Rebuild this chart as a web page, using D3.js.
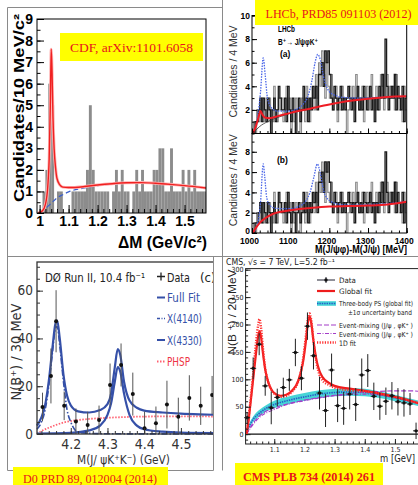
<!DOCTYPE html>
<html><head><meta charset="utf-8">
<script src="https://cdn.jsdelivr.net/npm/d3@7"></script>
<style>html,body{margin:0;padding:0;background:#fff}svg{display:block}</style>
</head><body>
<svg id="fig" width="418" height="485" xmlns="http://www.w3.org/2000/svg"></svg>
<script>
// ================= DATA =================
// --- CDF (top left): 10 MeV bins of Delta M (GeV) ---
const cdfMass = [1.00,1.01,1.02,1.03,1.04,1.05,1.06,1.07,1.08,1.09,1.10,1.11,1.12,1.13,1.14,1.15,1.16,1.17,1.18,1.19,1.20,1.21,1.22,1.23,1.24,1.25,1.26,1.27,1.28,1.29,1.30,1.31,1.32,1.33,1.34,1.35,1.36,1.37,1.38,1.39,1.40,1.41,1.42,1.43,1.44,1.45,1.46,1.47,1.48,1.49,1.50,1.51,1.52,1.53,1.54,1.55,1.56,1.57];
const cdfCounts = [0,1,2,6,5,0,1,1,0,0, 0,1,1,1,1,1,2,5,2,1, 1,1,1,1,0,1,2,1,2,1, 1,0,1,2,1,2,1,1,1,2, 2,3,3,1,1,3,1,1,1,2, 1,2,1,2,1,1,1,1];
const cdfFit = [[0.995,0],[1.01,0.1],[1.02,0.4],[1.028,1.2],[1.033,2.5],[1.037,5],[1.04,7.6],[1.043,6.5],[1.046,4.5],[1.05,3],[1.055,2.1],[1.06,1.6],[1.07,1.3],[1.08,1.2],[1.1,1.18],[1.15,1.22],[1.2,1.3],[1.25,1.36],[1.3,1.4],[1.35,1.41],[1.4,1.38],[1.45,1.33],[1.5,1.27],[1.55,1.2],[1.574,1.16]];
const cdfBkg = [[1.005,0],[1.02,0.2],[1.04,0.45],[1.06,0.7],[1.08,0.85],[1.1,0.98],[1.15,1.15],[1.2,1.27],[1.25,1.34],[1.3,1.38],[1.35,1.39],[1.4,1.37],[1.45,1.32],[1.5,1.26],[1.55,1.19],[1.574,1.15]];
const cdfYTicks = [0,1,2,3,4,5,6,7,8,9];
const cdfXTicks = [1.0,1.1,1.2,1.3,1.4,1.5];
const cdfXLabels = ["1","1.1","1.2","1.3","1.4","1.5"];

// --- LHCb (top right): 4 MeV bins, M(J/psi phi)-M(J/psi) in MeV ---
const lhcbEdges = d3.range(1000, 1400, 4);
const lhcbHistBlack = [0,0,1,1,2,3,1,3,2,1, 3,2,0,2,3,1,2,4,3,2, 2,3,1,4,2,1,3,2,0,2, 3,1,2,4,2,3,1,3,2,4,
  3,4,2,5,5,6,4,7,6,7, 5,3,2,4,3,2,3,4,2,3, 2,3,4,3,2,3,1,3,4,2, 3,2,4,3,2,3,4,2,3,1, 3,2,4,3,5,3,8,4,2,3, 4,3,5,2,4,3,2,4,1,3];
const lhcbHistGray = [0,1,0,2,1,2,3,1,2,3, 1,3,2,1,4,2,1,3,2,3, 1,2,4,2,3,0,2,1,3,2, 2,0,3,2,1,4,2,1,3,3,
  2,5,3,6,4,7,5,3,6,4, 3,5,2,3,4,1,3,2,4,3, 3,0,2,4,3,4,2,5,3,2, 2,4,1,3,4,2,3,5,3,2, 4,3,2,5,4,2,3,5,3,4, 3,4,2,5,3,2,3,1,4,2];
const lhcbFitA = [[1002,0],[1010,0.6],[1017,1.4],[1022,1.9],[1027,1.6],[1033,1.35],[1045,1.3],[1070,1.5],[1100,1.75],[1150,2.1],[1200,2.45],[1250,2.75],[1300,2.95],[1350,3.1],[1400,3.15]];
const lhcbBkgA = [[1002,0],[1020,0.6],[1040,1.0],[1070,1.4],[1100,1.72]];
const lhcbCdfA = [[1002,0],[1015,1.5],[1022,3.5],[1029,6.4],[1034,5],[1040,3],[1050,2.2],[1065,1.9],[1090,1.9],[1110,2.0],[1130,2.4],[1145,3.2],[1155,4.5],[1163,6],[1170,6.7],[1177,6.2],[1185,4.8],[1195,3.8],[1210,3.3],[1240,3.05],[1280,3.0],[1320,3.05],[1360,3.1],[1400,3.15]];
const lhcbFitB = [[1002,0],[1010,0.5],[1020,1.0],[1034,1.45],[1055,1.9],[1075,2.1],[1100,2.25],[1150,2.45],[1200,2.6],[1250,2.65],[1300,2.7],[1350,2.8],[1400,3.07]];
const lhcbCdfB = [[1002,0],[1015,1],[1022,3],[1029,6.8],[1033,5.5],[1038,3.5],[1045,2.8],[1055,2.5],[1075,2.4],[1100,2.4],[1120,2.6],[1140,3.2],[1150,4],[1160,5.5],[1169,6.8],[1176,6],[1185,4.2],[1200,3.2],[1230,2.8],[1260,2.75],[1300,2.8],[1350,2.9],[1400,3.1]];
const lhcbYTicksA = [2,4,6,8,10];
const lhcbYTicksB = [0,2,4,6,8];
const lhcbXTicks = [1000,1100,1200,1300,1400];

// --- D0 (bottom left): M(J/psi K+ K-) in GeV ---
const d0Mass = [4.123,4.146,4.160,4.182,4.214,4.246,4.277,4.307,4.337,4.369,4.401,4.432,4.462,4.493,4.523,4.554,4.585];
const d0Counts = [11.3,24.3,47.2,11.8,5.2,3.8,5.9,20.5,28.9,16.7,2.4,4.5,12.3,7.2,15.1,11.8,16.3];
const d0Err = [6,11.5,13,6,5.5,5.5,6,9,9,9,7,7,10,8,9.5,8,8];
const d0FullFit = [[4.108,3.5],[4.12,7],[4.13,12],[4.14,22],[4.15,36],[4.158,46],[4.163,47.5],[4.17,40],[4.18,25],[4.19,16],[4.20,12],[4.22,9.5],[4.25,9],[4.28,10],[4.30,12.5],[4.31,17],[4.32,28],[4.328,35.5],[4.335,33],[4.345,22],[4.36,14],[4.38,11],[4.40,9.8],[4.45,9],[4.5,8.5],[4.55,8.2],[4.6,8]];
const d0X4140 = [[4.108,2],[4.12,5],[4.13,10],[4.14,20],[4.15,34],[4.158,44],[4.163,45],[4.17,37],[4.18,22],[4.19,10],[4.20,5],[4.21,2],[4.22,0.8],[4.25,0.3],[4.3,0.1],[4.6,0]];
const d0X4330 = [[4.108,0.2],[4.2,0.5],[4.25,1.5],[4.28,3.5],[4.30,8],[4.31,13],[4.32,22],[4.328,28],[4.335,26],[4.345,17],[4.36,8],[4.38,3.5],[4.40,2],[4.45,1],[4.5,0.6],[4.6,0.4]];
const d0Phsp = [[4.108,0],[4.12,1.2],[4.14,2.6],[4.16,3.8],[4.18,4.8],[4.2,5.4],[4.25,6.3],[4.3,6.8],[4.35,7.1],[4.4,7.3],[4.5,7.4],[4.6,7.3]];
const d0YTicks = [0,20,40,60];
const d0XTicks = [4.2,4.3,4.4,4.5];

// --- CMS (bottom right): m = M(J/psi phi)-M(J/psi) in GeV, 20 MeV bins ---
const cmsMass = [1.01,1.03,1.05,1.07,1.09,1.11,1.13,1.15,1.17,1.19,1.21,1.23,1.25,1.27,1.29,1.31,1.33,1.35,1.37,1.39,1.41,1.43,1.45,1.47,1.49,1.51,1.53,1.55,1.57];
const cmsCounts = [30,120,164,88,48,67,85,99,149,102,197,143,75,43,117,52,47,73,54,108,116,69,51,60,70,59,57,55,6];
const cmsErr = [10,20,20,18,30,16,18,20,25,22,25,25,30,30,30,30,30,28,30,30,30,25,25,25,25,25,25,20,15];
const cmsGlobalFit = [[1.008,0],[1.015,25],[1.02,50],[1.03,100],[1.04,150],[1.047,180],[1.051,188],[1.056,178],[1.062,150],[1.07,118],[1.08,95],[1.09,82],[1.1,75],[1.12,70],[1.14,72],[1.16,80],[1.18,98],[1.195,130],[1.205,170],[1.212,205],[1.217,215],[1.222,205],[1.23,170],[1.24,135],[1.25,115],[1.26,104],[1.28,94],[1.3,88],[1.35,83],[1.4,79],[1.45,74],[1.5,68],[1.55,61],[1.58,56]];
const cms1DFit = [[1.008,0],[1.02,55],[1.03,110],[1.04,170],[1.047,200],[1.051,210],[1.056,195],[1.062,160],[1.07,120],[1.08,95],[1.1,74],[1.12,68],[1.14,70],[1.16,78],[1.18,97],[1.195,135],[1.205,180],[1.212,212],[1.217,220],[1.222,210],[1.23,170],[1.24,130],[1.25,108],[1.26,98],[1.28,90],[1.3,85],[1.35,80],[1.4,78],[1.45,74],[1.5,68],[1.55,61],[1.58,56]];
const cmsPS = [[1.008,0],[1.015,12],[1.02,18],[1.03,27],[1.05,38],[1.07,46],[1.1,54],[1.15,62],[1.2,68],[1.25,73],[1.3,76],[1.35,77],[1.4,76],[1.45,72],[1.5,66],[1.55,60],[1.58,56]];
const cmsPSErr = [0,3,4,5,6,6,7,7,7,7,7,7,7,6,6,5,5];
const cmsMix1 = [[1.008,0],[1.02,12],[1.05,33],[1.1,48],[1.15,56],[1.2,62],[1.25,67],[1.3,71],[1.35,74],[1.4,77],[1.45,78],[1.5,79],[1.55,79],[1.58,78]];
const cmsMix2 = [[1.008,0],[1.02,10],[1.05,30],[1.1,45],[1.15,55],[1.2,61],[1.25,66],[1.3,70],[1.35,72],[1.4,73],[1.45,71],[1.5,67],[1.55,61],[1.58,57]];
const cmsYTicks = [0,50,100,150,200,250,300];
const cmsXTicks = [1.1,1.2,1.3,1.4,1.5];

// ================= DRAWING =================
const svg = d3.select("#fig");
const SANS = '"Liberation Sans", Arial, Helvetica, "DejaVu Sans", sans-serif';
const NARROW = '"Liberation Sans Narrow", "DejaVu Sans Condensed", "Liberation Sans", Arial, sans-serif';
const SERIF = '"Liberation Serif", "Times New Roman", Times, serif';
const RED = "#e8141c";

function addText(g, x, y, str, o) {
  o = o || {};
  const t = g.append("text").attr("x", x).attr("y", y)
    .attr("font-family", o.font || SANS).attr("font-size", o.size || 10)
    .attr("font-weight", o.weight || "normal").attr("fill", o.fill || "#000")
    .attr("text-anchor", o.anchor || "start").text(str);
  if (o.rotate) t.attr("transform", `rotate(${o.rotate},${x},${y})`);
  if (o.len) t.attr("textLength", o.len).attr("lengthAdjust", "spacingAndGlyphs");
  return t;
}
function drawAxis(g, gen, o) {
  const a = g.append("g").attr("transform", o.tr).call(gen);
  a.select(".domain").remove();
  a.attr("font-family", o.font || SANS).attr("font-size", o.size || 10).attr("font-weight", o.weight || "normal");
  a.selectAll("line").attr("stroke", o.color || "#000").attr("stroke-width", o.sw || 1);
  a.selectAll("text").attr("fill", o.tcolor || "#000");
  if (o.dx) a.selectAll("text").attr("dx", o.dx);
  return a;
}
const defs = svg.append("defs");

// ---------- panel borders ----------
const borders = svg.append("g").attr("stroke", "#8a8a8a").attr("stroke-width", 1).attr("fill", "none");
borders.append("path").attr("d", "M7.5,7.5H222.5 M7.5,7.5V470.5 M222.5,0V470.5 M7.5,256.5H418 M213.5,256.5V470.5 M7.5,470.5H213.5");

// ---------- CDF ----------
{
  const g = svg.append("g");
  const x = d3.scaleLinear().domain([0.991, 1.574]).range([37, 206]);
  const y = d3.scaleLinear().domain([0, 9]).range([213, 19]);
  defs.append("clipPath").attr("id", "clipCdf").append("rect").attr("x", 37).attr("y", 19).attr("width", 169).attr("height", 194);
  const bins = cdfCounts.map((c, i) => ({x0: cdfMass[i], x1: i < cdfMass.length - 1 ? cdfMass[i + 1] : 2 * cdfMass[i] - cdfMass[i - 1], c}));
  const pg = g.append("g").attr("clip-path", "url(#clipCdf)");
  pg.selectAll("rect").data(bins.filter(d => d.c > 0)).join("rect")
    .attr("x", d => x(d.x0)).attr("width", d => x(d.x1) - x(d.x0))
    .attr("y", d => y(d.c)).attr("height", d => y(0) - y(d.c)).attr("fill", "#8c8c8c");
  const line = d3.line().x(d => x(d[0])).y(d => y(d[1])).curve(d3.curveMonotoneX);
  pg.append("path").attr("d", line(cdfBkg)).attr("fill", "none").attr("stroke", "#3a5fcd").attr("stroke-width", 1.2).attr("stroke-dasharray", "5,3");
  pg.append("path").attr("d", line(cdfFit)).attr("fill", "none").attr("stroke", "#ffb3b3").attr("stroke-width", 3);
  pg.append("path").attr("d", line(cdfFit)).attr("fill", "none").attr("stroke", "#f02020").attr("stroke-width", 1.4);
  g.append("rect").attr("x", 37).attr("y", 19).attr("width", 169).attr("height", 194).attr("fill", "none").attr("stroke", "#000").attr("stroke-width", 1);
  drawAxis(g, d3.axisLeft(y).tickValues(cdfYTicks).tickSize(-7).tickPadding(4).tickFormat(d3.format("d")), {tr: "translate(37,0)", size: 14, weight: "bold"});
  drawAxis(g, d3.axisLeft(y).tickValues(d3.range(0, 9.01, 0.5)).tickSize(-3.5).tickFormat(""), {tr: "translate(37,0)"});
  drawAxis(g, d3.axisBottom(x).tickValues(cdfXTicks).tickSize(-8).tickPadding(3).tickFormat((d, i) => cdfXLabels[i]), {tr: "translate(0,213)", size: 14, weight: "bold"});
  drawAxis(g, d3.axisBottom(x).tickValues(d3.range(1.0, 1.571, 0.02)).tickSize(-4).tickFormat(""), {tr: "translate(0,213)"});
  addText(g, 24, 108, "Candidates/10 MeV/c\u00b2", {size: 15, weight: "bold", anchor: "middle", rotate: -90, len: 188});
  addText(g, 207, 248, "\u0394M  (GeV/c\u00b2)", {size: 16, weight: "bold", anchor: "end", len: 89});
  g.append("rect").attr("x", 60).attr("y", 33).attr("width", 143).attr("height", 28).attr("fill", "#ffff00");
  addText(g, 131.5, 52, "CDF, arXiv:1101.6058", {font: SERIF, size: 13.5, fill: RED, anchor: "middle", len: 123});
}

// ---------- LHCb ----------
{
  const g = svg.append("g");
  const x = d3.scaleLinear().domain([1000, 1400]).range([252, 406.7]);
  const yA = d3.scaleLinear().domain([0, 10]).range([133.5, 15.5]);
  const yB = d3.scaleLinear().domain([0, 9.8]).range([233, 133.5]);
  const panels = [
    {y: yA, fit: lhcbFitA, cdf: lhcbCdfA, bkg: lhcbBkgA, ticks: lhcbYTicksA, top: 15.5, bot: 133.5, id: "clipLa"},
    {y: yB, fit: lhcbFitB, cdf: lhcbCdfB, bkg: null, ticks: lhcbYTicksB, top: 133.5, bot: 233, id: "clipLb"}
  ];
  panels.forEach(p => {
    defs.append("clipPath").attr("id", p.id).append("rect").attr("x", 252).attr("y", p.top).attr("width", 154.7).attr("height", p.bot - p.top);
    const pg = g.append("g").attr("clip-path", `url(#${p.id})`);
    const step = d3.line().x(d => x(d[0])).y(d => p.y(d[1])).curve(d3.curveStepAfter);
    const mk = arr => [[1000, 0]].concat(arr.map((v, i) => [lhcbEdges[i], v]), [[1400, arr[arr.length - 1]]]);
    pg.append("path").attr("d", step(mk(lhcbHistGray))).attr("fill", "none").attr("stroke", "#8a8a8a").attr("stroke-width", 1.1);
    pg.append("path").attr("d", step(mk(lhcbHistBlack))).attr("fill", "none").attr("stroke", "#1a1a1a").attr("stroke-width", 1.3);
    const line = d3.line().x(d => x(d[0])).y(d => p.y(d[1])).curve(d3.curveMonotoneX);
    if (p.bkg) pg.append("path").attr("d", line(p.bkg)).attr("fill", "none").attr("stroke", "#333").attr("stroke-width", 0.8);
    pg.append("path").attr("d", line(p.cdf)).attr("fill", "none").attr("stroke", "#4a66e8").attr("stroke-width", 1.3).attr("stroke-dasharray", "1.5,1.2");
    pg.append("path").attr("d", line(p.fit)).attr("fill", "none").attr("stroke", "#ee1c24").attr("stroke-width", 2);
    g.append("rect").attr("x", 252).attr("y", p.top).attr("width", 154.7).attr("height", p.bot - p.top).attr("fill", "none").attr("stroke", "#000").attr("stroke-width", 1);
    const ya = drawAxis(g, d3.axisLeft(p.y).tickValues(p.ticks).tickSize(-5).tickPadding(2).tickFormat(d3.format("d")), {tr: "translate(252,0)", size: 8.5, weight: "bold"});
    ya.selectAll("text").filter(d => d === 0).attr("transform", "translate(0,-2.5)");
    drawAxis(g, d3.axisLeft(p.y).tickValues(d3.range(0, 10.01, 1)).tickSize(-2.5).tickFormat(""), {tr: "translate(252,0)"});
    drawAxis(g, d3.axisBottom(x).tickValues(lhcbXTicks).tickSize(-5).tickFormat(""), {tr: `translate(0,${p.bot})`});
    drawAxis(g, d3.axisBottom(x).tickValues(d3.range(1000, 1401, 20)).tickSize(-2.5).tickFormat(""), {tr: `translate(0,${p.bot})`});
    addText(g, 237, (p.top + p.bot) / 2 - 3, "Candidates / 4 MeV", {size: 10, fill: "#333", anchor: "middle", rotate: -90, len: 92});
  });
  drawAxis(g, d3.axisBottom(x).tickValues(lhcbXTicks).tickSize(0).tickPadding(4.5).tickFormat(d3.format("d")), {tr: "translate(0,233)", size: 8.5, weight: "bold", dx: -3});
  addText(g, 407, 253, "M(J/\u03c8\u03c6)-M(J/\u03c8) [MeV]", {size: 10, weight: "bold", anchor: "end", len: 92});
  addText(g, 278, 31.5, "LHCb", {size: 8.5, weight: "bold", len: 17});
  addText(g, 278, 44.5, "B\u207a\u2192 J/\u03c8\u03c6K\u207a", {size: 8.5, weight: "bold", len: 40});
  addText(g, 280, 57, "(a)", {size: 8.5, weight: "bold"});
  addText(g, 277, 163, "(b)", {size: 8.5, weight: "bold"});
  g.append("rect").attr("x", 255).attr("y", 0).attr("width", 163).attr("height", 25).attr("fill", "#ffff00");
  addText(g, 338.5, 17.5, "LHCb, PRD85 091103 (2012)", {font: SERIF, size: 12.5, fill: RED, anchor: "middle", len: 146});
}

// ---------- D0 ----------
{
  defs.append("clipPath").attr("id", "clipD0").append("rect").attr("x", 8).attr("y", 257).attr("width", 205).attr("height", 213);
  const g = svg.append("g").attr("clip-path", "url(#clipD0)");
  const x = d3.scaleLinear().domain([4.108, 4.6]).range([37, 217.6]);
  const y = d3.scaleLinear().domain([0, 72]).range([434, 262]);
  const BLUE = "#3550a8";
  const line = d3.line().x(d => x(d[0])).y(d => y(d[1])).curve(d3.curveMonotoneX);
  g.append("path").attr("d", line(d0Phsp)).attr("fill", "none").attr("stroke", "#ff6070").attr("stroke-width", 1.8).attr("stroke-dasharray", "1.5,1.5");
  g.append("path").attr("d", line(d0X4140)).attr("fill", "none").attr("stroke", BLUE).attr("stroke-width", 1.6).attr("stroke-dasharray", "6,2,1.5,2");
  g.append("path").attr("d", line(d0X4330)).attr("fill", "none").attr("stroke", BLUE).attr("stroke-width", 2.2);
  g.append("path").attr("d", line(d0FullFit)).attr("fill", "none").attr("stroke", BLUE).attr("stroke-width", 2.2);
  const pts = d0Mass.map((m, i) => ({m, c: d0Counts[i], e: d0Err[i]}));
  g.selectAll("line.err").data(pts).join("line").attr("class", "err")
    .attr("x1", d => x(d.m)).attr("x2", d => x(d.m)).attr("y1", d => y(Math.max(0, d.c - d.e))).attr("y2", d => y(d.c + d.e))
    .attr("stroke", "#555").attr("stroke-width", 1);
  g.selectAll("circle").data(pts).join("circle").attr("cx", d => x(d.m)).attr("cy", d => y(d.c)).attr("r", 2).attr("fill", "#111");
  g.append("rect").attr("x", 37).attr("y", 262).attr("width", 180.6).attr("height", 172).attr("fill", "none").attr("stroke", "#333").attr("stroke-width", 1.3);
  drawAxis(g, d3.axisLeft(y).tickValues(d0YTicks).tickSize(-6).tickPadding(4).tickFormat(d3.format("d")), {tr: "translate(37,0)", font: NARROW, size: 13.5, color: "#333", tcolor: "#333"});
  drawAxis(g, d3.axisLeft(y).tickValues(d3.range(0, 71, 5)).tickSize(-3).tickFormat(""), {tr: "translate(37,0)", color: "#333"});
  drawAxis(g, d3.axisBottom(x).tickValues(d0XTicks).tickSize(-6).tickPadding(5).tickFormat(d3.format(".1f")), {tr: "translate(0,434)", font: NARROW, size: 14, color: "#333", tcolor: "#333"});
  drawAxis(g, d3.axisBottom(x).tickValues(d3.range(4.12, 4.6, 0.02)).tickSize(-3).tickFormat(""), {tr: "translate(0,434)", color: "#333"});
  addText(g, 21, 352, "N(B\u207a) / 30 MeV", {font: NARROW, size: 14, fill: "#333", anchor: "middle", rotate: -90, len: 97});
  addText(g, 123.5, 464, "M(J/ \u03c8K\u207aK\u207b) (GeV)", {font: NARROW, size: 13, fill: "#333", anchor: "middle", len: 93});
  addText(g, 45, 281.5, "D\u00d8 Run II, 10.4 fb\u207b\u00b9", {font: NARROW, size: 13, fill: "#222", len: 100});
  // legend
  g.append("path").attr("d", "M157,276.5H165 M161,272.5V280.5").attr("stroke", "#222").attr("stroke-width", 1.3);
  addText(g, 167, 281.5, "Data", {font: NARROW, size: 13, fill: "#222", len: 23});
  addText(g, 200, 281.5, "(c)", {font: NARROW, size: 13, fill: "#222"});
  g.append("line").attr("x1", 157).attr("x2", 165).attr("y1", 297.5).attr("y2", 297.5).attr("stroke", BLUE).attr("stroke-width", 2);
  addText(g, 167, 302, "Full Fit", {font: NARROW, size: 13, fill: BLUE, len: 33});
  g.append("line").attr("x1", 157).attr("x2", 165).attr("y1", 318.5).attr("y2", 318.5).attr("stroke", BLUE).attr("stroke-width", 1.6).attr("stroke-dasharray", "3,1.5,1,1.5");
  addText(g, 167, 323, "X(4140)", {font: NARROW, size: 13, fill: BLUE, len: 35});
  g.append("line").attr("x1", 157).attr("x2", 165).attr("y1", 340).attr("y2", 340).attr("stroke", BLUE).attr("stroke-width", 2);
  addText(g, 167, 344.5, "X(4330)", {font: NARROW, size: 13, fill: BLUE, len: 35});
  g.append("line").attr("x1", 157).attr("x2", 165).attr("y1", 361.5).attr("y2", 361.5).attr("stroke", "#ff6070").attr("stroke-width", 1.8).attr("stroke-dasharray", "1.5,1.5");
  addText(g, 167, 366, "PHSP", {font: NARROW, size: 13, fill: "#ee3344", len: 23});
  const yb = svg.append("g");
  yb.append("rect").attr("x", 13).attr("y", 467).attr("width", 155).attr("height", 18).attr("fill", "#ffff00");
  addText(yb, 90, 482.5, "D0 PRD 89, 012004 (2014)", {font: SERIF, size: 13, fill: RED, anchor: "middle", len: 134});
}

// ---------- CMS ----------
{
  const g = svg.append("g");
  const x = d3.scaleLinear().domain([1.005, 1.6]).range([245.6, 425.1]);
  const y = d3.scaleLinear().domain([-18, 302]).range([444, 268.6]);
  const line = d3.line().x(d => x(d[0])).y(d => y(d[1])).curve(d3.curveMonotoneX);
  const band = d3.area().x(d => x(d[0])).y0((d, i) => y(d[1] - cmsPSErr[i])).y1((d, i) => y(d[1] + cmsPSErr[i])).curve(d3.curveMonotoneX);
  g.append("line").attr("x1", 245.6).attr("x2", 418).attr("y1", y(0)).attr("y2", y(0)).attr("stroke", "#111").attr("stroke-width", 1.4);
  g.append("path").attr("d", band(cmsPS)).attr("fill", "#46d4d6");
  g.append("path").attr("d", line(cmsPS)).attr("fill", "none").attr("stroke", "#2a58c8").attr("stroke-width", 1.6).attr("stroke-dasharray", "1.4,1");
  g.append("path").attr("d", line(cmsMix2)).attr("fill", "none").attr("stroke", "#a43cc8").attr("stroke-width", 1.1).attr("stroke-dasharray", "4,1.5,1,1.5");
  g.append("path").attr("d", line(cmsMix1)).attr("fill", "none").attr("stroke", "#a43cc8").attr("stroke-width", 1.1).attr("stroke-dasharray", "5,2");
  g.append("path").attr("d", line(cmsGlobalFit)).attr("fill", "none").attr("stroke", "#ee1c1c").attr("stroke-width", 2.2);
  g.append("path").attr("d", line(cms1DFit)).attr("fill", "none").attr("stroke", "#ff3030").attr("stroke-width", 2.4).attr("stroke-dasharray", "1.2,1.4");
  const pts = cmsMass.map((m, i) => ({m, c: cmsCounts[i], e: cmsErr[i]}));
  g.selectAll("line.ey").data(pts).join("line").attr("class", "ey")
    .attr("x1", d => x(d.m)).attr("x2", d => x(d.m)).attr("y1", d => y(d.c - d.e)).attr("y2", d => y(d.c + d.e))
    .attr("stroke", "#222").attr("stroke-width", 1);
  g.selectAll("line.ex").data(pts).join("line").attr("class", "ex")
    .attr("x1", d => x(d.m - 0.01)).attr("x2", d => x(d.m + 0.01)).attr("y1", d => y(d.c)).attr("y2", d => y(d.c))
    .attr("stroke", "#222").attr("stroke-width", 1);
  g.selectAll("circle").data(pts).join("circle").attr("cx", d => x(d.m)).attr("cy", d => y(d.c)).attr("r", 1.7).attr("fill", "#111");
  g.append("rect").attr("x", 245.6).attr("y", 268.6).attr("width", 179.5).attr("height", 175.4).attr("fill", "none").attr("stroke", "#222").attr("stroke-width", 1);
  drawAxis(g, d3.axisLeft(y).tickValues(cmsYTicks).tickSize(-5).tickPadding(2).tickFormat(d3.format("d")), {tr: "translate(245.6,0)", font: NARROW, size: 7, color: "#222", tcolor: "#222"});
  drawAxis(g, d3.axisLeft(y).tickValues(d3.range(-10, 301, 10)).tickSize(-2.5).tickFormat(""), {tr: "translate(245.6,0)", color: "#222"});
  drawAxis(g, d3.axisBottom(x).tickValues(cmsXTicks).tickSize(-5).tickPadding(3).tickFormat(d3.format(".1f")), {tr: "translate(0,444)", font: NARROW, size: 7, color: "#222", tcolor: "#222"});
  drawAxis(g, d3.axisBottom(x).tickValues(d3.range(1.02, 1.59, 0.02)).tickSize(-2.5).tickFormat(""), {tr: "translate(0,444)", color: "#222"});
  addText(g, 236, 312, "N(B \u207a) / 20 MeV", {size: 11, fill: "#222", anchor: "middle", rotate: -90, len: 85});
  addText(g, 415, 462, "m [GeV]", {font: NARROW, size: 10, fill: "#222", anchor: "end", len: 35});
  addText(g, 226, 264.5, "CMS,   \u221as = 7 TeV, L=5.2 fb\u207b\u00b9", {font: NARROW, size: 8, fill: "#222", len: 109});
  // legend
  const L = g.append("g");
  const LF = 7;
  L.append("line").attr("x1", 317).attr("x2", 335).attr("y1", 280).attr("y2", 280).attr("stroke", "#223").attr("stroke-width", 1);
  L.append("line").attr("x1", 326).attr("x2", 326).attr("y1", 277).attr("y2", 283).attr("stroke", "#223").attr("stroke-width", 1);
  L.append("circle").attr("cx", 326).attr("cy", 280).attr("r", 1.7).attr("fill", "#111");
  addText(L, 339, 283, "Data", {font: NARROW, size: 7.5, fill: "#222", len: 17});
  L.append("line").attr("x1", 317).attr("x2", 335).attr("y1", 291).attr("y2", 291).attr("stroke", "#ee1c1c").attr("stroke-width", 2.2);
  addText(L, 339, 294, "Global fit", {font: NARROW, size: 7.5, fill: "#222", len: 33});
  L.append("rect").attr("x", 317).attr("y", 301.2).attr("width", 19).attr("height", 4.6).attr("fill", "#46d4d6");
  L.append("line").attr("x1", 317).attr("x2", 336).attr("y1", 303.5).attr("y2", 303.5).attr("stroke", "#2a58c8").attr("stroke-width", 1.6).attr("stroke-dasharray", "1.4,1");
  addText(L, 339, 306, "Three-body PS (global fit)", {font: NARROW, size: LF, fill: "#222", len: 74});
  addText(L, 348, 315, "\u00b11\u03c3  uncertainty band", {font: NARROW, size: LF, fill: "#222", len: 64});
  L.append("line").attr("x1", 317).attr("x2", 336).attr("y1", 325).attr("y2", 325).attr("stroke", "#a43cc8").attr("stroke-width", 1.1).attr("stroke-dasharray", "5,2");
  addText(L, 339, 327.5, "Event-mixing (J/\u03c8 , \u03c6K\u207a )", {font: NARROW, size: LF, fill: "#222", len: 74});
  L.append("line").attr("x1", 317).attr("x2", 336).attr("y1", 333.5).attr("y2", 333.5).attr("stroke", "#a43cc8").attr("stroke-width", 1.1).attr("stroke-dasharray", "4,1.5,1,1.5");
  addText(L, 339, 336.5, "Event-mixing (J/\u03c8 , \u03c6K\u207a )", {font: NARROW, size: LF, fill: "#222", len: 74});
  L.append("line").attr("x1", 317).attr("x2", 336).attr("y1", 342.5).attr("y2", 342.5).attr("stroke", "#ff3030").attr("stroke-width", 2.4).attr("stroke-dasharray", "1.2,1.4");
  addText(L, 339, 345.5, "1D fit", {font: NARROW, size: 7.5, fill: "#222", len: 17});
  g.append("rect").attr("x", 235).attr("y", 463).attr("width", 148).attr("height", 22).attr("fill", "#ffff00");
  addText(g, 309, 481, "CMS  PLB 734 (2014) 261", {font: SERIF, size: 13, weight: "bold", fill: RED, anchor: "middle", len: 132});
}
</script>
</body></html>
